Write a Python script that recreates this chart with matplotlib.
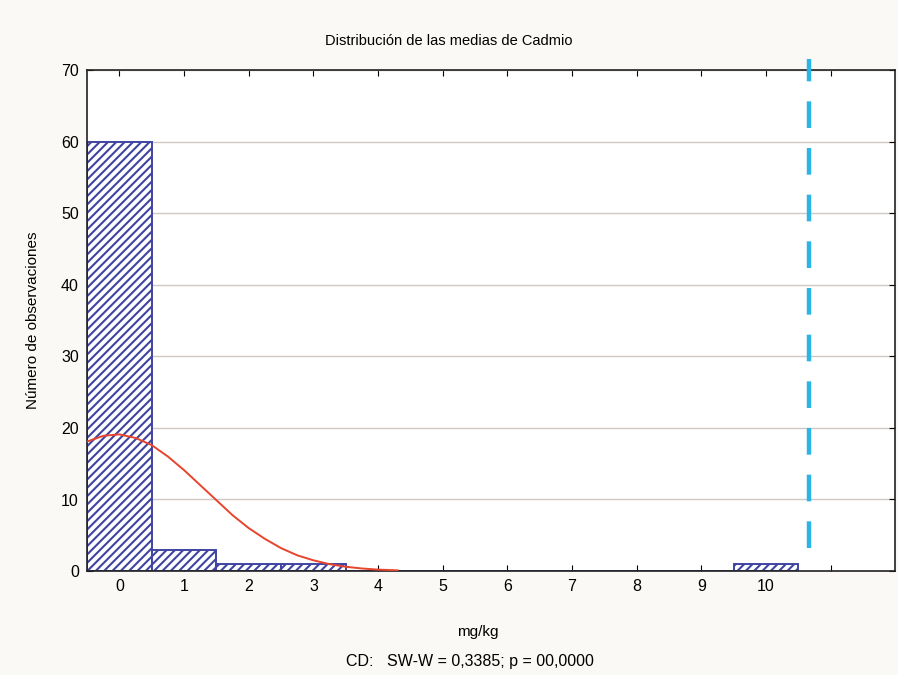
import matplotlib.pyplot as plt
from matplotlib.ticker import MultipleLocator

plt.rcParams['font.family'] = ['Liberation Sans', 'DejaVu Sans']
plt.rcParams['hatch.linewidth'] = 1.5

# histogram counts per mg/kg class
bins = [0, 1, 2, 3, 4, 5, 6, 7, 8, 9, 10]
counts = [60, 3, 1, 1, 0, 0, 0, 0, 0, 0, 1]

# fitted normal curve
curve_x = [-0.5, -0.25, 0.0, 0.25, 0.5, 0.75, 1.0, 1.25, 1.5, 1.75, 2.0,
           2.25, 2.5, 2.75, 3.0, 3.25, 3.5, 3.75, 4.0, 4.3]
curve_y = [18.1, 18.9, 19.1, 18.6, 17.6, 16.0, 14.1, 12.0, 9.9, 7.8, 6.0,
           4.5, 3.2, 2.2, 1.5, 0.96, 0.6, 0.36, 0.2, 0.1]

limit_x = 10.66
limit_top = 3.2

bar_color = '#3f44a2'
fig = plt.figure(figsize=(8.98, 6.75), dpi=100, facecolor='#fbf9f5')
ax = fig.add_axes([0.097, 0.154, 0.9, 0.742])
ax.set_facecolor('white')

ax.bar(bins, counts, width=1.0, facecolor='white', edgecolor=bar_color,
       hatch='////', linewidth=1.4, zorder=2)
ax.plot(curve_x, curve_y, color='#e8432c', linewidth=1.4, zorder=3)
ax.plot([limit_x, limit_x], [limit_top, 71.5], color='#2bb5e6', linewidth=3.2,
        linestyle=(0, (6, 4.5)), zorder=4, clip_on=False)

ax.set_xlim(-0.5, 12)
ax.set_ylim(0, 70)
ax.set_xticks(range(0, 12))
ax.set_xticklabels([str(b) for b in bins] + [''])
ax.yaxis.set_major_locator(MultipleLocator(10))
ax.grid(axis='y', color='#cfc9c6', linewidth=1.0, zorder=0)
ax.tick_params(direction='in', top=True, right=True, length=4, labelsize=11.5,
               pad=6)
for s in ax.spines.values():
    s.set_color('#222222')
    s.set_linewidth(1.2)

ax.set_ylabel('Número de observaciones', fontsize=11)
ax.yaxis.set_label_coords(-0.058, 0.5)
fig.text(0.5, 0.934, 'Distribución de las medias de Cadmio', ha='center',
         fontsize=10.5)
fig.text(0.532, 0.058, 'mg/kg', ha='center', fontsize=11)
fig.text(0.523, 0.014, 'CD:   SW-W = 0,3385; p = 00,0000', ha='center',
         fontsize=11.5)

fig.savefig('out.png', dpi=100, facecolor=fig.get_facecolor())
